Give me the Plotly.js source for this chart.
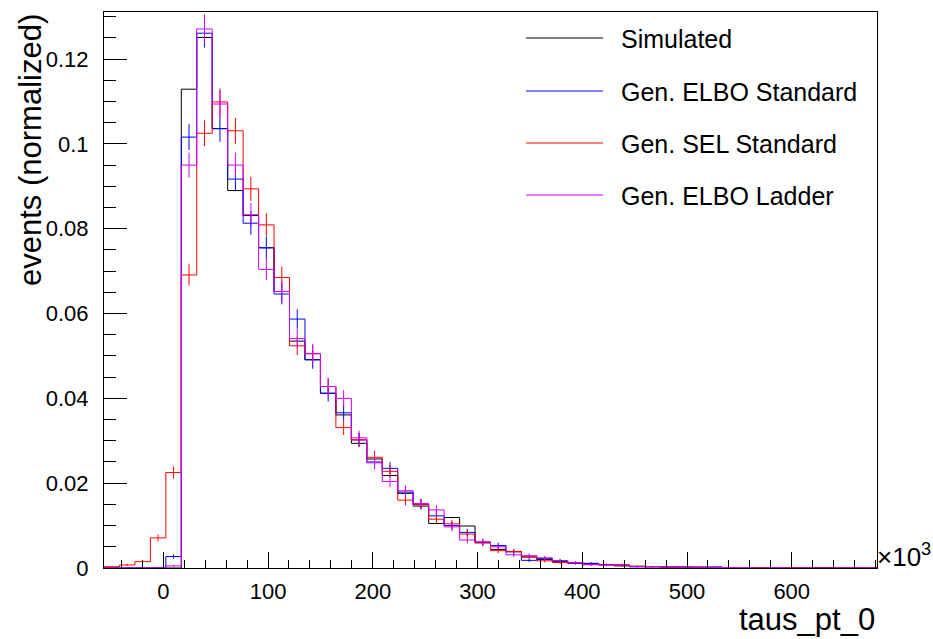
<!DOCTYPE html>
<html>
<head>
<meta charset="utf-8">
<script src="https://cdn.plot.ly/plotly-3.0.1.min.js"></script>
<style>html,body{margin:0;padding:0;background:#fff;}#chart{width:933px;height:639px;}</style>
</head>
<body>
<div id="chart"></div>
<script>
// Histogram binning (units of 10^3)
const binLow = -56.6;
const binWidth = 14.76;
const nBins = 50;

// Series names
const seriesNames = ["Simulated", "Gen. ELBO Standard", "Gen. SEL Standard", "Gen. ELBO Ladder"];

// Normalized bin contents
const simulated = [0,0,0,0,0, 0.1129,0.1251,0.1036,0.0890,0.0831, 0.0755,0.0652,0.0535,0.0491,0.0412, 0.0361,0.0294,0.0257,0.0218,0.0176, 0.0146,0.0105,0.0119,0.0099,0.0060, 0.0044,0.0039,0.0026,0.0020,0.0015, 0.0011,0.0010,0.0008,0.0005,0.0004, 0.0003,0.0003,0.0002,0.0002,0.0002, 0.0001,0.0001,0.0001,0.0001,0.0001, 0.0000,0.0001,0.0000,0.0000,0.0000];
const elboStandard = [0,0,0,0,0.0027, 0.1016,0.1261,0.1036,0.0917,0.0813, 0.0755,0.0646,0.0587,0.0491,0.0412, 0.0366,0.0302,0.0250,0.0235,0.0179, 0.0150,0.0123,0.0100,0.0084,0.0060, 0.0053,0.0038,0.0018,0.0022,0.0017, 0.0011,0.0011,0.0008,0.0006,0.0003, 0.0003,0.0002,0.0002,0.0001,0.0002, 0.0001,0.0001,0.0000,0.0001,0.0000, 0.0000,0.0000,0.0000,0.0000,0.0000];
const selStandard = [0.0003,0.0007,0.0015,0.0071,0.0225, 0.0691,0.1025,0.1099,0.1031,0.0894, 0.0809,0.0685,0.0524,0.0505,0.0428, 0.0331,0.0302,0.0261,0.0228,0.0160, 0.0150,0.0115,0.0104,0.0080,0.0059, 0.0041,0.0039,0.0026,0.0017,0.0013, 0.0013,0.0008,0.0007,0.0006,0.0004, 0.0003,0.0003,0.0002,0.0002,0.0001, 0.0001,0.0001,0.0001,0.0000,0.0001, 0.0000,0.0000,0.0000,0.0000,0.0000];
const elboLadder = [0,0,0,0,0.0005, 0.0950,0.1271,0.1094,0.0950,0.0833, 0.0704,0.0652,0.0541,0.0506,0.0428, 0.0400,0.0307,0.0248,0.0204,0.0182, 0.0152,0.0137,0.0097,0.0066,0.0062, 0.0050,0.0031,0.0029,0.0024,0.0017, 0.0012,0.0008,0.0007,0.0008,0.0003, 0.0003,0.0002,0.0002,0.0002,0.0001, 0.0001,0.0001,0.0000,0.0001,0.0000, 0.0000,0.0000,0.0000,0.0000,0.0000];

// approximate number of generated events (sets Poisson error size)
const nGenEvents = 11000;

// tick labels
const xTickVals = [0, 100, 200, 300, 400, 500, 600];
const yTickVals = [0, 0.02, 0.04, 0.06, 0.08, 0.1, 0.12];

const colors = ["#000000", "#0000ff", "#ff0000", "#cc00ff"];
const FONT = "Liberation Sans, Arial, Helvetica, sans-serif";

const edges = [];
for (let i = 0; i <= nBins; i++) edges.push(binLow + i * binWidth);
const centers = [];
for (let i = 0; i < nBins; i++) centers.push(binLow + (i + 0.5) * binWidth);

const allSeries = [simulated, elboStandard, selStandard, elboLadder];
const withErrors = [false, true, true, true];

const traces = [];
allSeries.forEach((vals, k) => {
  traces.push({
    type: "scatter", mode: "lines", name: seriesNames[k],
    x: edges, y: vals.concat([vals[vals.length - 1]]),
    line: {shape: "hv", color: colors[k], width: 1},
    showlegend: false, hoverinfo: "skip"
  });
  if (withErrors[k]) {
    traces.push({
      type: "scatter", mode: "markers", name: seriesNames[k] + " err",
      x: centers, y: vals,
      marker: {size: 0, color: "rgba(0,0,0,0)"},
      error_y: {type: "data", array: vals.map(v => Math.sqrt(v / nGenEvents)), visible: true,
                color: colors[k], thickness: 1, width: 0},
      showlegend: false, hoverinfo: "skip"
    });
  }
});

const plotL = 104, plotR = 877, plotT = 12, plotB = 568;
const W = 933, H = 639;
const pw = plotR - plotL, ph = plotB - plotT;
const px = p => (p - plotL) / pw;
const py = p => (plotB - p) / ph;

const shapes = [];
const annotations = [];
const legendRows = [38, 91, 143, 195];
seriesNames.forEach((nm, k) => {
  shapes.push({type: "line", xref: "paper", yref: "paper",
    x0: px(526), x1: px(603), y0: py(legendRows[k]), y1: py(legendRows[k]),
    line: {color: colors[k], width: 1}});
  annotations.push({xref: "paper", yref: "paper", x: px(619), y: py(legendRows[k] + 1),
    xanchor: "left", yanchor: "middle", text: nm, showarrow: false,
    font: {family: FONT, size: 25, color: "#000"}});
});

annotations.push({xref: "paper", yref: "paper", x: 1, y: py(600), xanchor: "right", yanchor: "top",
  text: "taus_pt_0", showarrow: false, font: {family: FONT, size: 31, color: "#000"}});
annotations.push({xref: "paper", yref: "paper", x: px(30), y: 1, xanchor: "center", yanchor: "top",
  textangle: -90, text: "events (normalized)", showarrow: false,
  font: {family: FONT, size: 31, color: "#000"}});
annotations.push({xref: "paper", yref: "paper", x: px(875), y: py(574), xanchor: "left", yanchor: "bottom",
  text: "×10<sup>3</sup>", showarrow: false, font: {family: FONT, size: 26, color: "#000"}});

const layout = {
  width: W, height: H,
  margin: {l: plotL, r: W - plotR, t: plotT, b: H - plotB, pad: 0},
  paper_bgcolor: "#fff", plot_bgcolor: "#fff",
  showlegend: false,
  font: {family: FONT, color: "#000"},
  xaxis: {
    range: [edges[0], edges[nBins]],
    tickmode: "array", tickvals: xTickVals, ticktext: xTickVals.map(String),
    ticks: "inside", ticklen: 16, tickwidth: 1, tickcolor: "#000",
    minor: {dtick: 20, tick0: 0, ticks: "inside", ticklen: 8, tickwidth: 1, tickcolor: "#000", showgrid: false},
    showline: true, mirror: true, linecolor: "#000", linewidth: 1,
    showgrid: false, zeroline: false,
    tickfont: {family: FONT, size: 22, color: "#000"},
    ticklabelstandoff: 4
  },
  yaxis: {
    range: [0, 0.1311],
    tickmode: "array", tickvals: yTickVals, ticktext: yTickVals.map(String),
    ticks: "inside", ticklen: 23, tickwidth: 1, tickcolor: "#000",
    minor: {dtick: 0.005, tick0: 0, ticks: "inside", ticklen: 12, tickwidth: 1, tickcolor: "#000", showgrid: false},
    showline: true, mirror: true, linecolor: "#000", linewidth: 1,
    showgrid: false, zeroline: false,
    tickfont: {family: FONT, size: 22, color: "#000"},
    ticklabelstandoff: 10
  },
  shapes: shapes,
  annotations: annotations
};

Plotly.newPlot("chart", traces, layout, {displayModeBar: false, staticPlot: true});
</script>
</body>
</html>
